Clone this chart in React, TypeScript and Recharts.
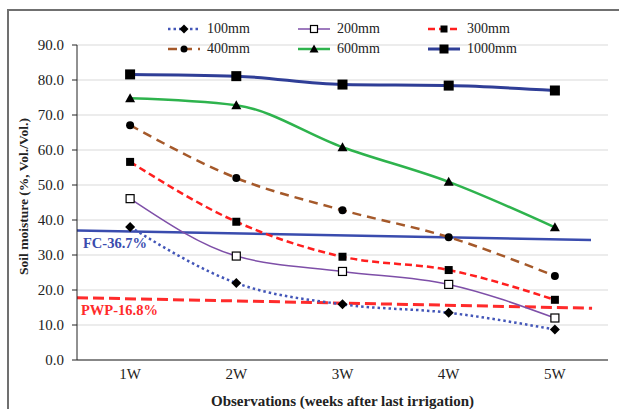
import React from "react";
import {
  LineChart,
  Line,
  XAxis,
  YAxis,
  CartesianGrid,
  Legend,
  LabelList,
} from "recharts";

// weeks after last irrigation
const weeks = [1, 2, 3, 4, 5];
const weekLabels = ["1W", "2W", "3W", "4W", "5W"];
const yTicks = [0, 10, 20, 30, 40, 50, 60, 70, 80, 90];

// soil moisture (% vol/vol) by depth
const seriesNames = ["100mm", "200mm", "300mm", "400mm", "600mm", "1000mm"];
const s100 = [38.0, 22.0, 15.9, 13.5, 8.7];
const s200 = [46.1, 29.7, 25.3, 21.6, 12.0];
const s300 = [56.6, 39.5, 29.5, 25.7, 17.2];
const s400 = [67.1, 52.0, 42.8, 35.1, 24.0];
const s600 = [74.8, 72.8, 60.8, 50.9, 37.9];
const s1000 = [81.6, 81.1, 78.7, 78.4, 77.0];

// field capacity / permanent wilting point reference lines
const fcX = [0.5, 5.34];
const fcY = [37.0, 34.3];
const pwpX = [0.5, 5.35];
const pwpY = [17.8, 14.8];

const allSeries = [s100, s200, s300, s400, s600, s1000];
const keys = ["d100", "d200", "d300", "d400", "d600", "d1000"];

const rows = weeks.map((w, i) => {
  const r: Record<string, number> = { x: w };
  keys.forEach((k, j) => (r[k] = allSeries[j][i]));
  return r;
});
const fcData = fcX.map((x, i) => ({ x, y: fcY[i] }));
const pwpData = pwpX.map((x, i) => ({ x, y: pwpY[i] }));

const styles: Record<string, { color: string; width: number; dash?: string; shape: string; size: number }> = {
  d100: { color: "#4356b8", width: 2.5, dash: "2.5 3", shape: "diamond", size: 5 },
  d200: { color: "#7e4fa8", width: 1.5, shape: "openSquare", size: 4 },
  d300: { color: "#ff1f1f", width: 2.5, dash: "7 4", shape: "square", size: 4 },
  d400: { color: "#a5592a", width: 2.5, dash: "9 6", shape: "circle", size: 4 },
  d600: { color: "#2eb34d", width: 2.5, shape: "triangle", size: 5 },
  d1000: { color: "#2f3e97", width: 3, shape: "square", size: 5 },
};

const FONT = "'Liberation Serif', 'Times New Roman', serif";

function Marker({ shape, cx, cy, s }: { shape: string; cx: number; cy: number; s: number }) {
  switch (shape) {
    case "diamond":
      return <polygon points={`${cx},${cy - s} ${cx + s},${cy} ${cx},${cy + s} ${cx - s},${cy}`} fill="#000" />;
    case "openSquare":
      return <rect x={cx - s} y={cy - s} width={2 * s} height={2 * s} fill="#fff" stroke="#000" strokeWidth={1.2} />;
    case "square":
      return <rect x={cx - s} y={cy - s} width={2 * s} height={2 * s} fill="#000" />;
    case "circle":
      return <circle cx={cx} cy={cy} r={s} fill="#000" />;
    case "triangle":
      return <polygon points={`${cx},${cy - s} ${cx + s},${cy + s * 0.8} ${cx - s},${cy + s * 0.8}`} fill="#000" />;
    default:
      return null;
  }
}

const makeDot = (k: string) => (p: any) => {
  if (p.cx == null || p.cy == null) return <g key={`${k}-${p.index}`} />;
  return (
    <g key={`${k}-${p.index}`}>
      <Marker shape={styles[k].shape} cx={p.cx} cy={p.cy} s={styles[k].size} />
    </g>
  );
};

const renderLegend = (props: any) => {
  const payload = props.payload || [];
  const ordered = keys
    .map((k) => payload.find((e: any) => e.dataKey === k))
    .filter(Boolean);
  return (
    <div style={{ display: "grid", gridTemplateColumns: "130px 130px 130px", fontFamily: FONT, fontSize: 14, color: "#222" }}>
      {ordered.map((e: any) => {
        const st = styles[e.dataKey];
        return (
          <div key={e.dataKey} style={{ display: "flex", alignItems: "center", height: 20 }}>
            <svg width={36} height={14}>
              <line x1={2} x2={34} y1={7} y2={7} stroke={st.color} strokeWidth={st.width} strokeDasharray={st.dash} />
              <Marker shape={st.shape} cx={18} cy={7} s={st.size - 0.5} />
            </svg>
            <span style={{ marginLeft: 5 }}>{e.value}</span>
          </div>
        );
      })}
    </div>
  );
};

const refLabel = (text: string, color: string, dx: number) => (p: any) => {
  if (p.index !== 0) return null;
  return (
    <text key="lbl" x={p.x + dx} y={p.y + 17} fill={color} fontWeight="bold" fontSize={14.5} fontFamily={FONT}>
      {text}
    </text>
  );
};

const yTitle = (p: any) => {
  const vb = p.viewBox || {};
  const cx = 23;
  const cy = vb.y + vb.height / 2 - 6;
  return (
    <text
      x={cx}
      y={cy}
      transform={`rotate(-90, ${cx}, ${cy})`}
      textAnchor="middle"
      dominantBaseline="central"
      fontWeight="bold"
      fontSize={13.5}
      fill="#222"
      fontFamily={FONT}
    >
      Soil moisture (%, Vol./Vol.)
    </text>
  );
};

export default function App() {
  return (
    <div style={{ position: "absolute", left: 0, top: 0, width: 619, height: 409, overflow: "hidden", background: "#fff" }}>
      <div style={{ position: "absolute", left: 7, top: 9, width: 700, height: 500, border: "2px solid #707070", boxSizing: "border-box" }} />
      <div style={{ position: "absolute", left: 0, top: 0 }}>
        <LineChart
          width={619}
          height={409}
          data={rows}
          margin={{ top: 45, right: 11, bottom: 0, left: 0 }}
          style={{ fontFamily: FONT }}
        >
          <CartesianGrid vertical={false} stroke="#d9d9d9" strokeWidth={1.2} xAxisId="tk" />
          <XAxis
            xAxisId="tk"
            dataKey="x"
            type="number"
            domain={[0.5, 5.5]}
            ticks={[0.5, 1.5, 2.5, 3.5, 4.5, 5.5]}
            allowDataOverflow
            height={0}
            axisLine={false}
            tickLine={{ stroke: "#222" }}
            tickSize={5}
            tickFormatter={() => ""}
          />
          <XAxis
            xAxisId="lab"
            dataKey="x"
            type="number"
            domain={[0.5, 5.5]}
            ticks={weeks}
            allowDataOverflow
            height={49}
            axisLine={{ stroke: "#222" }}
            tickLine={false}
            tickSize={6}
            tickMargin={2}
            tickFormatter={(v: number) => weekLabels[weeks.indexOf(v)]}
            tick={{ fill: "#222", fontSize: 15 }}
            label={{
              value: "Observations  (weeks after last irrigation)",
              position: "insideBottom",
              offset: 3,
              style: { fontWeight: "bold", fontSize: 15, fill: "#222" },
            }}
          />
          <YAxis
            type="number"
            domain={[0, 90]}
            ticks={yTicks}
            width={77}
            axisLine={{ stroke: "#222" }}
            tickLine={{ stroke: "#222" }}
            tickSize={5}
            tickMargin={8}
            tickFormatter={(v: number) => v.toFixed(1)}
            tick={{ fill: "#222", fontSize: 15 }}
            label={{ content: yTitle }}
          />
          <Legend
            layout="vertical"
            align="center"
            verticalAlign="middle"
            content={renderLegend}
            wrapperStyle={{ top: 19, left: 166, width: 400 }}
          />
          <Line
            xAxisId="lab"
            data={fcData}
            dataKey="y"
            stroke="#3a4cae"
            strokeWidth={2.5}
            dot={false}
            legendType="none"
            isAnimationActive={false}
          >
            <LabelList dataKey="y" content={refLabel("FC-36.7%", "#3a4cae", 6)} />
          </Line>
          <Line
            xAxisId="lab"
            data={pwpData}
            dataKey="y"
            stroke="#ff2b2b"
            strokeWidth={3}
            strokeDasharray="11 5"
            dot={false}
            legendType="none"
            isAnimationActive={false}
          >
            <LabelList dataKey="y" content={refLabel("PWP-16.8%", "#ff2b2b", 4)} />
          </Line>
          {keys.map((k, j) => (
            <Line
              key={k}
              xAxisId="lab"
              type="monotone"
              dataKey={k}
              name={seriesNames[j]}
              stroke={styles[k].color}
              strokeWidth={styles[k].width}
              strokeDasharray={styles[k].dash}
              dot={makeDot(k)}
              activeDot={false}
              isAnimationActive={false}
            />
          ))}
        </LineChart>
      </div>
    </div>
  );
}
